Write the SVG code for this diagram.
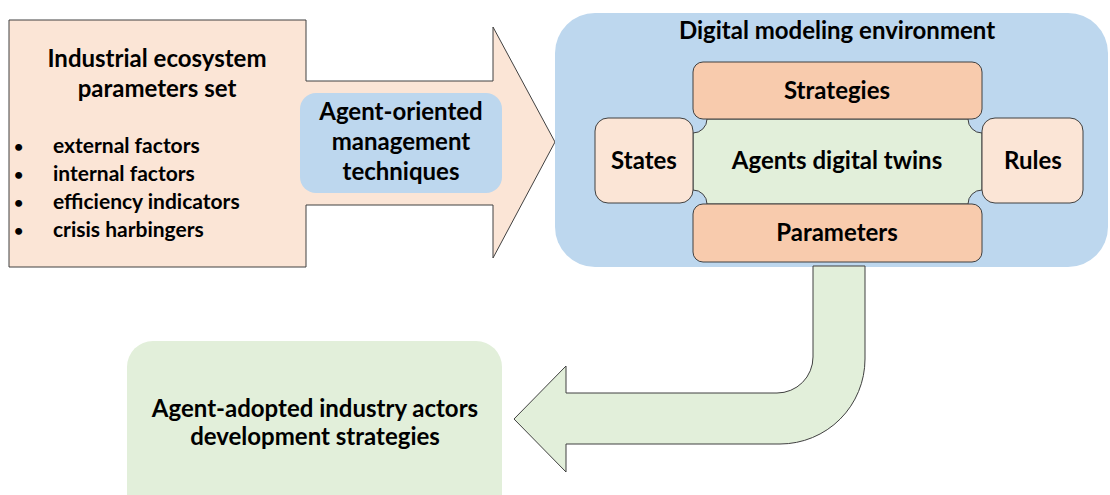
<svg xmlns="http://www.w3.org/2000/svg" width="1110" height="495" viewBox="0 0 1110 495">
<style>
text{font-family:Lato,"Open Sans","Liberation Sans",sans-serif;font-weight:bold;fill:#000;}
.t{font-size:24px;text-anchor:middle;}
.b{font-size:21px;}
.dot{font-size:16px;}
.ln{stroke:#404040;stroke-width:1;}
.peach{fill:#FBE5D6;}
.orange{fill:#F8CBAD;}
.blue{fill:#BDD7EE;}
.green{fill:#E2EFDA;}
</style>
<rect width="1110" height="495" fill="#fff"/>
<g id="connectors">
<path id="input-arrow" class="peach ln" d="M9,20 H306 V81 H493 V27 L555,142 L493,258 V205 H306 V267 H9 Z"/>
</g>
<g id="params-set">
<text class="t" x="157" y="67">Industrial ecosystem</text>
<text class="t" x="157" y="97">parameters set</text>
<text class="dot" x="14" y="152">•</text><text class="b" x="53" y="153">external factors</text>
<text class="dot" x="14" y="180">•</text><text class="b" x="53" y="181">internal factors</text>
<text class="dot" x="14" y="208">•</text><text class="b" x="53" y="209">efficiency indicators</text>
<text class="dot" x="14" y="236">•</text><text class="b" x="53" y="237">crisis harbingers</text>
</g>
<g id="techniques">
<rect class="blue" x="300" y="93" width="202" height="100" rx="16"/>
<text class="t" x="401" y="120">Agent-oriented</text>
<text class="t" x="401" y="150">management</text>
<text class="t" x="401" y="180">techniques</text>
</g>
<g id="environment">
<rect class="blue" x="555" y="13" width="553" height="254" rx="40"/>
<text class="t" x="837" y="39">Digital modeling environment</text>
</g>
<g id="twins">
<path class="green ln" d="M707,119 H968 A14,14 0 0 0 982,133 V190 A14,14 0 0 0 968,204 H707 A14,14 0 0 0 693,190 V133 A14,14 0 0 0 707,119 Z"/>
<text class="t" x="837" y="169">Agents digital twins</text>
</g>
<g id="strategies">
<rect class="orange ln" x="693" y="62" width="289" height="57" rx="10"/>
<text class="t" x="837" y="99">Strategies</text>
</g>
<g id="parameters">
<rect class="orange ln" x="693" y="204" width="289" height="58" rx="10"/>
<text class="t" x="837" y="241">Parameters</text>
</g>
<g id="states">
<rect class="peach ln" x="595" y="118" width="98" height="85" rx="13"/>
<text class="t" x="644" y="169">States</text>
</g>
<g id="rules">
<rect class="peach ln" x="982" y="118" width="101" height="85" rx="13"/>
<text class="t" x="1033" y="169">Rules</text>
</g>
<g id="connectors-out">
<path id="output-arrow" class="green ln" d="M813,266 H865 V359 A85,85 0 0 1 780,444 H566 V472 L514,419 L566,366 V393 H777 A36,36 0 0 0 813,357 Z"/>
</g>
<g id="result">
<rect class="green" x="127" y="341" width="375" height="180" rx="26"/>
<text class="t" x="315" y="417">Agent-adopted industry actors</text>
<text class="t" x="315" y="445">development strategies</text>
</g>
</svg>
